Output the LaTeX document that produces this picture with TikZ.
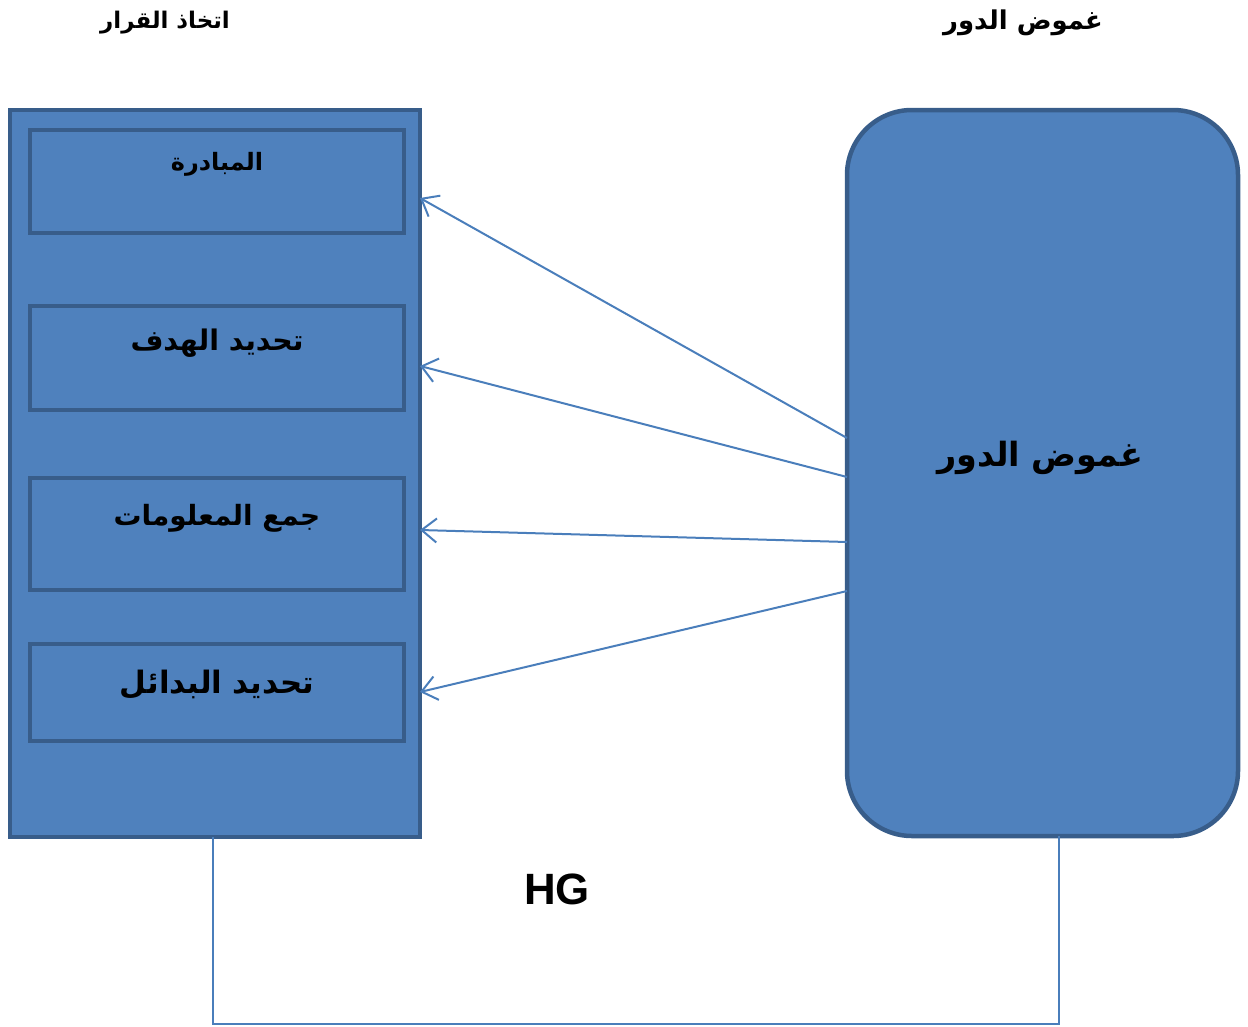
\documentclass[tikz,border=0pt]{standalone}
\usepackage{fontspec}
\setmainfont{Liberation Sans}
\newfontfamily\arabicfont[Script=Arabic]{DejaVu Sans}
\TeXXeTstate=1
\usetikzlibrary{arrows.meta,calc}

\definecolor{boxfill}{HTML}{4F81BD}
\definecolor{boxline}{HTML}{385D8A}
\definecolor{linkline}{HTML}{4A7EBB}

\tikzset{
  panel/.style={draw=boxline, fill=boxfill, line width=4.5bp, inner sep=0pt, outer sep=0pt, anchor=north west},
  stage/.style={draw=boxline, fill=boxfill, line width=4.5bp, inner sep=0pt, outer sep=0pt, anchor=north west},
  rolebox/.style={draw=boxline, fill=boxfill, line width=4.5bp, inner sep=0pt, outer sep=0pt, anchor=north west, rounded corners=65bp},
  arlabel/.style={font=\arabicfont\bfseries, text=black, inner sep=0pt},
  link/.style={draw=linkline, line width=2bp, -{Straight Barb[length=15bp,width=24bp,line width=2bp]}},
  frameline/.style={draw=linkline, line width=2bp}
}

\begin{document}
\begin{tikzpicture}[x=1bp,y=-1bp]
\useasboundingbox (0,0) rectangle (1248,1027);

% decision-making panel with its four stages
\node[panel, minimum width=410bp, minimum height=727bp] (dm) at (10,110) {};
\node[stage, minimum width=374bp, minimum height=103bp] (s1) at (30,130) {};
\node[stage, minimum width=374bp, minimum height=104bp] (s2) at (30,306) {};
\node[stage, minimum width=374bp, minimum height=112bp] (s3) at (30,478) {};
\node[stage, minimum width=374bp, minimum height=97bp] (s4) at (30,644) {};

\node[arlabel, font=\arabicfont\bfseries\fontsize{24}{28}\selectfont] (t1) at (217,164) {\beginR المبادرة\endR};
\node[arlabel, font=\arabicfont\bfseries\fontsize{28.5}{32}\selectfont] (t2) at (217,343) {\beginR تحديد الهدف\endR};
\node[arlabel, font=\arabicfont\bfseries\fontsize{28}{32}\selectfont] (t3) at (217,518) {\beginR جمع المعلومات\endR};
\node[arlabel, font=\arabicfont\bfseries\fontsize{31}{35}\selectfont] (t4) at (217,685) {\beginR تحديد البدائل\endR};

% role ambiguity box
\node[rolebox, minimum width=391bp, minimum height=726bp] (rb) at (847,110) {};
\node[arlabel, font=\arabicfont\bfseries\fontsize{33.5}{38}\selectfont] (rt) at (1040,458) {\beginR غموض الدور\endR};

% column headings
\node[arlabel, font=\arabicfont\bfseries\fontsize{23}{27}\selectfont] (h1) at (165,23) {\beginR اتخاذ القرار\endR};
\node[arlabel, font=\arabicfont\bfseries\fontsize{26}{30}\selectfont] (h2) at (1023,23) {\beginR غموض الدور\endR};

% influence arrows
\draw[link] ($(rb.north west)+(0,328)$) -- ($(dm.north east)+(0,88)$);
\draw[link] ($(rb.north west)+(0,367)$) -- ($(dm.north east)+(0,256)$);
\draw[link] ($(rb.north west)+(0,432)$) -- ($(dm.north east)+(0,420)$);
\draw[link] ($(rb.north west)+(0,481)$) -- ($(dm.north east)+(0,582)$);

% bottom connector
\coordinate (bl) at ($(dm.south)+(-2,187)$);
\draw[frameline] ($(dm.south)+(-2,0)$) -- (bl) -| ($(rb.south)+(16.5,0)$);

\node[font=\bfseries\fontsize{44}{48}\selectfont, inner sep=0pt] (hg) at (557,889) {HG};
\end{tikzpicture}
\end{document}
